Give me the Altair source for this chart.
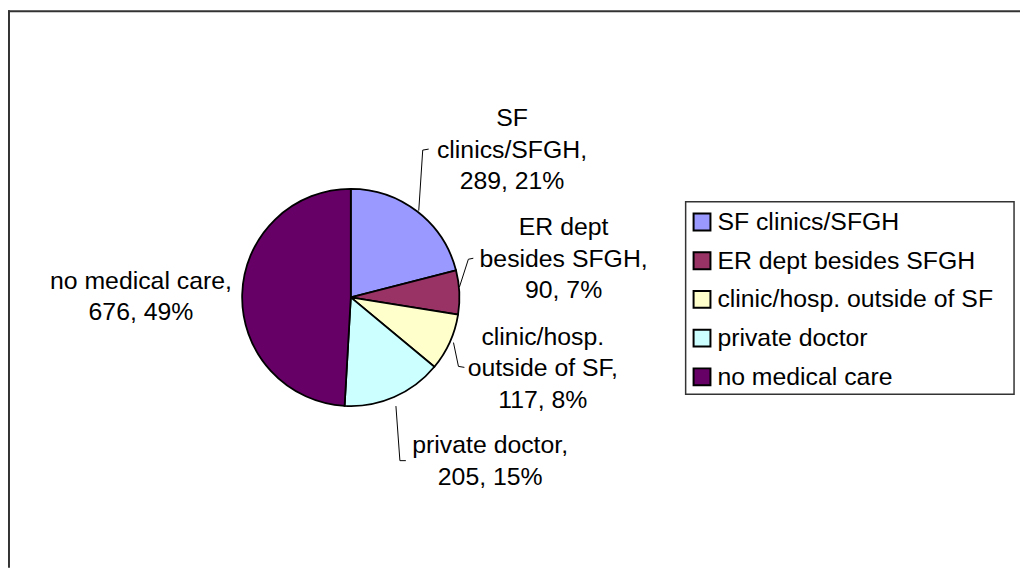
import altair as alt
import pandas as pd

# ---- data ----
categories = ["SF clinics/SFGH", "ER dept besides SFGH", "clinic/hosp. outside of SF",
              "private doctor", "no medical care"]
counts = [289, 90, 117, 205, 676]
legend_labels = ["SF clinics/SFGH", "\u00a0ER dept besides SFGH", "clinic/hosp. outside of SF",
                 "private doctor", "no medical care"]
label_lines = [
    ["SF", "clinics/SFGH,", "289, 21%"],
    ["ER dept", "besides SFGH,", "90, 7%"],
    ["clinic/hosp.", "outside of SF,", "117, 8%"],
    ["private doctor,", "205, 15%"],
    ["no medical care,", "676, 49%"],
]
colors = ["#9999FF", "#993366", "#FFFFCC", "#CCFFFF", "#660066"]

# ---- layout (page pixels, styling only) ----
OFF = 8
W, H = 1020, 562
FONT = "Liberation Sans"
FS = 25
LINE_H = 32
PIE_CX, PIE_CY, PIE_R = 353.5, 297.5, 109.5
label_cx = [516, 568, 547, 494, 142]
label_cy = [148.5, 258.5, 369, 462.5, 296.5]
leaders = [
    [(422, 210), (426, 149), (432, 148)],
    [(463, 287), (472, 259), (477, 258)],
    [(457, 343), (462, 367), (468, 368)],
    [(399, 407), (403, 462), (409, 462)],
]
LEG_BOX = (691, 201, 1022, 395)
LEG_ROW0, LEG_ROW_STEP = 221.5, 39
LEG_SW_X0, LEG_SW_X1, LEG_SW_HALF = 699, 716, 8.5
LEG_TEXT_X = 723

xs = alt.Scale(domain=[0, W], range=[0, W], nice=False, zero=False)
ys = alt.Scale(domain=[0, H], range=[0, H], nice=False, zero=False)
cscale = alt.Scale(domain=categories, range=colors)

# pie
pie_df = pd.DataFrame({"cat": categories, "count": counts, "idx": range(len(categories))})
pie = alt.Chart(pie_df).mark_arc(radius=PIE_R, stroke="black", strokeWidth=1.8).encode(
    theta=alt.Theta("count:Q", stack=True),
    color=alt.Color("cat:N", scale=cscale, legend=None),
    order=alt.Order("idx:Q", sort="ascending"),
    x=alt.value(PIE_CX - OFF),
    y=alt.value(PIE_CY - OFF),
)

# data labels
rows = []
for i, lines in enumerate(label_lines):
    n = len(lines)
    for j, t in enumerate(lines):
        rows.append({"t": t, "x": label_cx[i] - OFF,
                     "y": label_cy[i] + (j - (n - 1) / 2) * LINE_H - OFF})
lab_df = pd.DataFrame(rows)
labels = alt.Chart(lab_df).mark_text(font=FONT, fontSize=FS, color="black",
                                     align="center", baseline="middle").encode(
    x=alt.X("x:Q", scale=xs, axis=None),
    y=alt.Y("y:Q", scale=ys, axis=None),
    text="t:N",
)

# leader lines
lrows = []
for i, pts in enumerate(leaders):
    for k, (px, py) in enumerate(pts):
        lrows.append({"g": i, "k": k, "x": px - OFF, "y": py - OFF})
lead_df = pd.DataFrame(lrows)
lead = alt.Chart(lead_df).mark_line(color="black", strokeWidth=1).encode(
    x=alt.X("x:Q", scale=xs, axis=None),
    y=alt.Y("y:Q", scale=ys, axis=None),
    detail="g:N",
    order="k:Q",
)

# legend
box_df = pd.DataFrame({"x": [LEG_BOX[0] - OFF], "x2": [LEG_BOX[2] - OFF],
                       "y": [LEG_BOX[1] - OFF], "y2": [LEG_BOX[3] - OFF]})
box = alt.Chart(box_df).mark_rect(fill="white", stroke="#333333", strokeWidth=1.5).encode(
    x=alt.X("x:Q", scale=xs, axis=None), x2="x2:Q",
    y=alt.Y("y:Q", scale=ys, axis=None), y2="y2:Q",
)
leg_rows = []
for i, (c, l) in enumerate(zip(categories, legend_labels)):
    cy = LEG_ROW0 + i * LEG_ROW_STEP - OFF
    leg_rows.append({"cat": c, "lab": l, "y": cy - LEG_SW_HALF, "y2": cy + LEG_SW_HALF,
                     "yc": cy, "x": LEG_SW_X0 - OFF, "x2": LEG_SW_X1 - OFF,
                     "tx": LEG_TEXT_X - OFF})
leg_df = pd.DataFrame(leg_rows)
sw = alt.Chart(leg_df).mark_rect(stroke="black", strokeWidth=2).encode(
    x=alt.X("x:Q", scale=xs, axis=None), x2="x2:Q",
    y=alt.Y("y:Q", scale=ys, axis=None), y2="y2:Q",
    color=alt.Color("cat:N", scale=cscale, legend=None),
)
leg_txt = alt.Chart(leg_df).mark_text(font=FONT, fontSize=FS, color="black",
                                      align="left", baseline="middle").encode(
    x=alt.X("tx:Q", scale=xs, axis=None),
    y=alt.Y("yc:Q", scale=ys, axis=None),
    text="lab:N",
)

# outer frame (only top and left edges visible in the reference)
frame_top = alt.Chart(pd.DataFrame({"a": [0]})).mark_rule(color="#333333", strokeWidth=2).encode(
    x=alt.value(0), x2=alt.value(W), y=alt.value(1))
frame_left = alt.Chart(pd.DataFrame({"a": [0]})).mark_rule(color="#333333", strokeWidth=2).encode(
    x=alt.value(1), y=alt.value(0), y2=alt.value(H))

chart = alt.layer(frame_top, frame_left, pie, lead, labels, box, sw, leg_txt).properties(
    width=W, height=H, padding=0, autosize=alt.AutoSizeParams(type="none"),
    background="white",
).configure_view(stroke=None)

chart.save("out.html", embed_options={"renderer": "svg", "actions": False})
